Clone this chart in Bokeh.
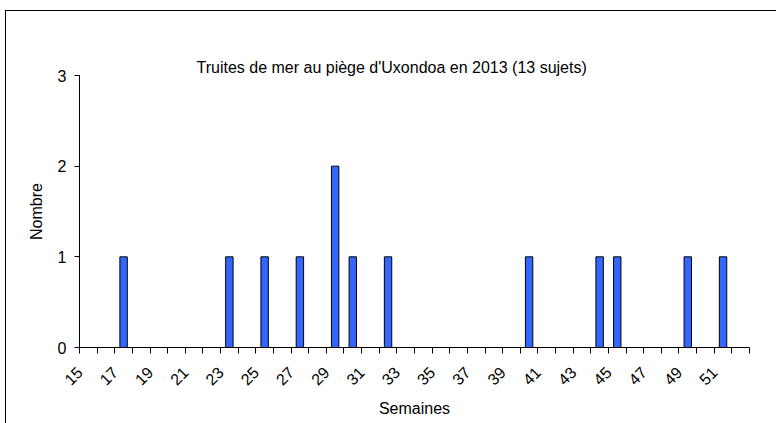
import math
from bokeh.plotting import figure
from bokeh.models import FixedTicker, Range1d, LinearAxis, Title
from bokeh.embed import file_html
from bokeh.resources import INLINE

# Data
weeks = [17, 23, 25, 27, 29, 30, 32, 40, 44, 45, 49, 51]
counts = [1, 1, 1, 1, 2, 1, 1, 1, 1, 1, 1, 1]
first_week = 15
last_week = 52
label_weeks = list(range(first_week, last_week + 1, 2))
y_ticks = [0, 1, 2, 3]

title_text = "Truites de mer au piège d'Uxondoa en 2013 (13 sujets)"
FONT = "Liberation Sans"
FS = "16px"

p = figure(width=771, height=413, output_backend="svg", toolbar_location=None,
           x_range=Range1d(first_week - 0.5, last_week + 0.5),
           y_range=Range1d(0, 3),
           min_border_left=73, min_border_right=28, min_border_top=64, min_border_bottom=77)
p.title = None

p.styles = {"border-left": "1px solid black", "border-top": "1px solid black",
            "margin-left": "5px", "margin-top": "10px"}

p.vbar(x=weeks, top=counts, width=0.42, bottom=0,
       fill_color="#3366FF", line_color="black", line_width=1)

xa = p.below[0]
ya = p.left[0]

# invisible spacer between frame and title
spacer = LinearAxis(ticker=FixedTicker(ticks=[]), axis_line_color=None,
                    major_tick_line_color=None, minor_tick_line_color=None,
                    major_tick_in=0, major_tick_out=29, minor_tick_out=0,
                    major_label_standoff=0)
p.add_layout(spacer, "above")

chart_title = Title(text=title_text, align="left", offset=117,
                    text_font=FONT, text_font_size=FS, text_font_style="normal",
                    text_color="black", standoff=0)
p.add_layout(chart_title, "above")

p.outline_line_color = None
p.xgrid.visible = False
p.ygrid.visible = False
p.background_fill_color = "white"
p.border_fill_color = "white"

# label anchor placed half a category left so rotated text ends beside its category
label_pos = [w - 0.5 for w in label_weeks]
boundaries = [w - 0.5 for w in range(first_week, last_week + 2)]
xa.ticker = FixedTicker(ticks=label_pos, minor_ticks=boundaries)
xa.major_label_overrides = {pos: str(w) for pos, w in zip(label_pos, label_weeks)}
xa.major_tick_line_color = None
xa.minor_tick_in = 0
xa.minor_tick_out = 6
xa.minor_tick_line_color = "black"
xa.axis_line_color = "black"
xa.major_label_orientation = math.pi / 4
xa.major_label_text_font = FONT
xa.major_label_text_font_size = FS
xa.major_label_text_color = "black"
xa.major_label_standoff = 16
xa.axis_label = "Semaines"
xa.axis_label_text_font = FONT
xa.axis_label_text_font_size = FS
xa.axis_label_text_font_style = "normal"
xa.axis_label_text_color = "black"
xa.axis_label_standoff = 6

ya.ticker = FixedTicker(ticks=y_ticks)
ya.major_tick_in = 0
ya.major_tick_out = 5
ya.minor_tick_line_color = None
ya.axis_line_color = "black"
ya.major_label_text_font = FONT
ya.major_label_text_font_size = FS
ya.major_label_text_color = "black"
ya.major_label_standoff = 8
ya.axis_label = "Nombre"
ya.axis_label_text_font = FONT
ya.axis_label_text_font_size = FS
ya.axis_label_text_font_style = "normal"
ya.axis_label_text_color = "black"
ya.axis_label_standoff = 10

open("out.html", "w").write(file_html(p, INLINE))
